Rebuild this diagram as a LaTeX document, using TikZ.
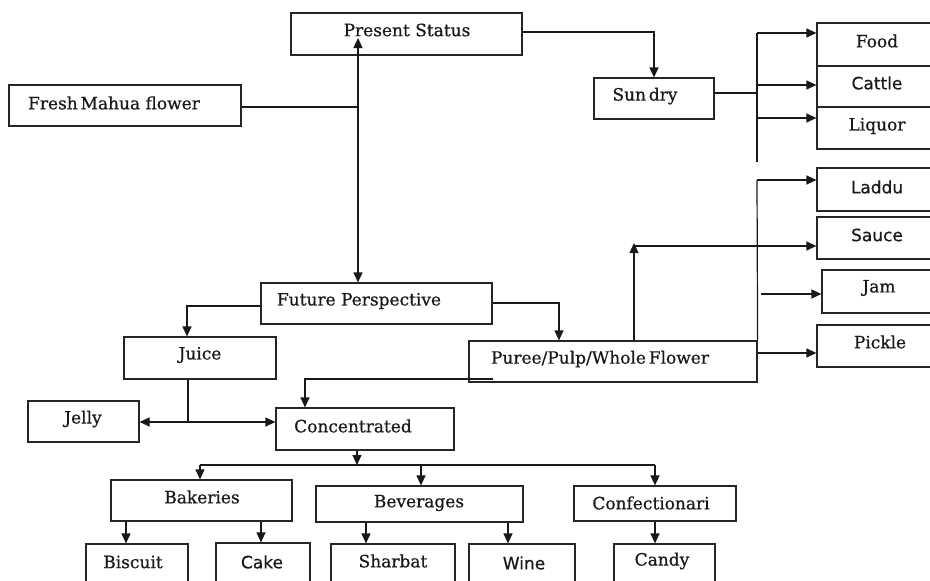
\documentclass[tikz,border=0pt]{standalone}
\usepackage{fontspec}
\setmainfont{DejaVu Serif}
\newfontfamily\serifb{DejaVu Serif}[FakeBold=0.6]
\newfontfamily\sansf{DejaVu Sans}[FakeBold=0.5]
\usetikzlibrary{arrows.meta}
\tikzset{
  box/.style={draw=black!85, line width=1.2pt, inner sep=0pt},
  lbl/.style={font=\serifb\fontsize{17}{20}\selectfont, inner sep=0pt, text=black!90},
  slbl/.style={font=\sansf\fontsize{17}{20}\selectfont, inner sep=0pt, text=black!90},
  con/.style={draw=black!90, line width=1.2pt},
  arr/.style={con, -{Triangle[length=10pt,width=9pt]}},
  darr/.style={con, {Triangle[length=10pt,width=9pt]}-{Triangle[length=10pt,width=9pt]}},
}
\newcommand\bx[5]{\node[box, minimum width=#4pt-#2pt, minimum height=#5pt-#3pt] (#1) at ({(#2+#4)/2},{(#3+#5)/2}) {};}
\begin{document}
\begin{tikzpicture}[x=1pt,y=-1pt]
\fill[white] (0,0) rectangle (930,581);
\useasboundingbox (0,0) rectangle (930,581);
\clip (0,0) rectangle (930,581);
% boxes
\bx{ps}{291}{13}{522}{55}
\bx{fm}{9}{85}{241}{126}
\bx{sd}{594}{78}{714}{119}
\bx{food}{817}{23}{945}{66}
\bx{cattle}{817}{66}{945}{107}
\bx{liquor}{817}{107}{945}{149}
\bx{laddu}{817}{168}{945}{211}
\bx{sauce}{817}{217}{945}{259}
\bx{jam}{822}{270}{945}{313}
\bx{pickle}{817}{325}{945}{367}
\bx{fp}{261}{283}{492}{324}
\bx{pu}{469}{341}{757}{382}
\bx{juice}{124}{337}{276}{379}
\bx{jelly}{28}{401}{139}{442}
\bx{conc}{276}{408}{454}{450}
\bx{bak}{111}{480}{292}{521}
\bx{bev}{316}{486}{523}{522}
\bx{conf}{574}{486}{736}{521}
\bx{biscuit}{86}{544}{188}{600}
\bx{cake}{216}{543}{310}{600}
\bx{sharbat}{331}{544}{455}{600}
\bx{wine}{469}{544}{575}{600}
\bx{candy}{614}{544}{715}{600}
% labels
\node[lbl] (psT) at (407,30) {Present Status};
\node[lbl] (fmT) at (114,103) {Fresh\,Mahua flower};
\node[lbl] (sdT) at (645,96) {Sun\,dry};
\node[lbl] (foodT) at (877,41) {Food};
\node[slbl] (cattleT) at (877,83) {Cattle};
\node[lbl] (liquorT) at (877,126) {Liquor};
\node[slbl] (madduT) at (877,187) {Laddu};
\node[slbl] (sauceT) at (877,235) {Sauce};
\node[lbl] (jamT) at (879,288) {Jam};
\node[lbl] (pickleT) at (880,342) {Pickle};
\node[lbl] (fpT) at (359,301) {Future Perspective};
\node[lbl] (puT) at (600,359) {Puree/Pulp/Whole\,Flower};
\node[lbl] (juiceT) at (200,355) {Juice};
\node[lbl] (jellyT) at (83,419) {Jelly};
\node[lbl] (concT) at (353,426) {Concentrated};
\node[lbl] (bakT) at (202,497) {Bakeries};
\node[lbl] (bevT) at (419,503) {Beverages};
\node[lbl] (confT) at (651,503) {Confectionari};
\node[lbl] (biscuitT) at (133,562) {Biscuit};
\node[slbl] (cakeT) at (262,562) {Cake};
\node[lbl] (sharbatT) at (393,561) {Sharbat};
\node[slbl] (wineT) at (524,563) {Wine};
\node[lbl] (candyT) at (662,561) {Candy};
% connectors
\coordinate (psTip) at (358,38);
\draw[darr] (fp.north -| psTip) -- (psTip);
\draw[con] (fm.east |- 0,107) -- (358,107);
\draw[arr] (ps.east |- 0,32) -| (sd.north);
\coordinate (b1top) at (757,33);
\coordinate (b1bot) at (757,162);
\draw[con] (b1top) -- (b1bot);
\draw[con] (sd.east |- 0,93) -- (757,93);
\draw[arr] (b1top) -- (food.west |- b1top);
\draw[arr] (757,85) -- (cattle.west |- 0,85);
\draw[arr] (757,118) -- (liquor.west |- 0,118);
\coordinate (b2top) at (757,180);
\draw[con] (pu.north east) -- (b2top);
\draw[arr] (b2top) -- (laddu.west |- b2top);
\coordinate (jamS) at (761,294);
\draw[arr] (jamS) -- (jam.west |- jamS);
\draw[arr] (pu.east |- 0,353) -- (pickle.west |- 0,353);
\coordinate (sauceUp) at (634,243);
\draw[arr] (pu.north -| sauceUp) -- (sauceUp);
\draw[arr] (634,246) -- (sauce.west |- 0,246);
\draw[arr] (fp.east |- 0,303) -| (pu.north -| 559,0);
\draw[arr] (fp.west |- 0,306) -| (juice.north -| 187,0);
\draw[con] (juice.south -| 188,0) -- (188,422);
\draw[darr] (jelly.east |- 0,422) -- (conc.west |- 0,422);
\draw[arr] (493,379) -| (conc.north -| 305,0);
\draw[arr] (conc.south -| 357,0) -- (357,465);
\draw[con] (200,465) -- (655,465);
\draw[arr] (200,465) -- (bak.north -| 200,0);
\draw[arr] (421,465) -- (bev.north -| 421,0);
\draw[arr] (655,465) -- (conf.north -| 655,0);
\draw[arr] (bak.south -| 126,0) -- (biscuit.north -| 126,0);
\draw[arr] (bak.south -| 261,0) -- (cake.north -| 261,0);
\draw[arr] (bev.south -| 366,0) -- (sharbat.north -| 366,0);
\draw[arr] (bev.south -| 508,0) -- (wine.north -| 508,0);
\draw[arr] (conf.south -| 655,0) -- (candy.north -| 655,0);
\end{tikzpicture}
\end{document}
